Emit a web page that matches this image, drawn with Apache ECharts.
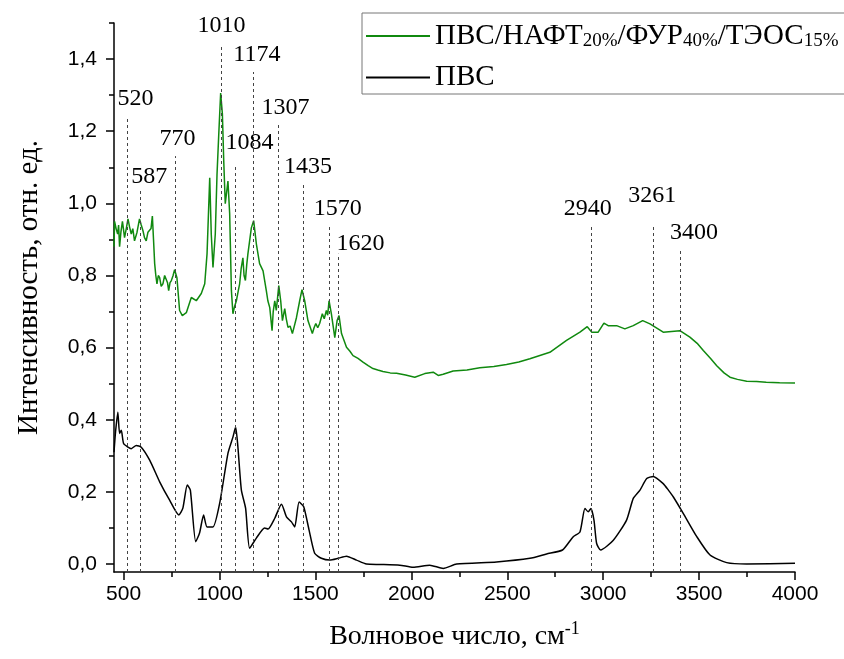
<!DOCTYPE html>
<html>
<head>
<meta charset="utf-8">
<script src="https://cdn.jsdelivr.net/npm/echarts@6/dist/echarts.min.js"></script>
<style>
  html, body { margin: 0; padding: 0; background: #fff; }
  #chart { width: 844px; height: 659px; }
</style>
</head>
<body>
<div id="chart"></div>
<script>
// ПВС/НАФТ/ФУР/ТЭОС film spectrum (green)
var compX = [450, 453, 461, 469, 474, 479, 486, 494, 499, 505, 514, 523, 531, 540, 548, 557, 570, 583, 592, 601, 609, 618, 627, 636, 643, 650,
  656, 662, 668, 674, 681, 688, 696, 705, 714, 723, 729, 735, 742, 749, 758, 766, 778, 792, 806, 827, 853, 879, 905, 923, 935, 949, 957, 966, 978, 987, 996, 1006, 1015, 1022,
  1030, 1044, 1053, 1062, 1070, 1079, 1088, 1097, 1105, 1113, 1122, 1128, 1135, 1142, 1148, 1166, 1178, 1192, 1209, 1227, 1244, 1252, 1262, 1274, 1280, 1288, 1296,
  1309, 1319, 1328, 1340, 1348, 1357, 1368, 1380, 1401, 1418, 1430, 1444, 1461, 1484, 1493, 1502, 1512, 1522, 1536, 1546, 1557, 1564, 1571, 1583, 1601, 1613,
  1623, 1636, 1644, 1662, 1680, 1696, 1722, 1748, 1775, 1800, 1825, 1852, 1890, 1923, 1970, 2018, 2070, 2114, 2140, 2166, 2218, 2290, 2357, 2430, 2496, 2560, 2618, 2722, 2809, 2879, 2917,
  2940, 2974, 3004, 3026, 3070, 3113, 3157, 3206, 3244, 3313, 3400, 3452, 3490, 3522, 3560, 3592, 3630, 3661, 3700, 3748, 3800, 3850, 3920, 4000];
var compY = [0.88, 0.95, 0.93, 0.915, 0.94, 0.88, 0.92, 0.95, 0.93, 0.905, 0.93, 0.957, 0.935, 0.915, 0.93, 0.896, 0.92, 0.957, 0.94, 0.924, 0.905, 0.896, 0.92, 0.915, 0.93, 0.965,
  0.90, 0.833, 0.80, 0.777, 0.80, 0.794, 0.77, 0.777, 0.80, 0.805, 0.78, 0.758, 0.78, 0.786, 0.80, 0.816, 0.794, 0.703, 0.689, 0.697, 0.739, 0.730, 0.750, 0.777, 0.860, 1.071, 0.915, 0.822, 0.915, 1.08, 1.19, 1.306, 1.248, 1.118,
  0.999, 1.062, 0.971, 0.758, 0.694, 0.715, 0.730, 0.755, 0.777, 0.82, 0.849, 0.80, 0.786, 0.83, 0.860, 0.932, 0.952, 0.888, 0.833, 0.813, 0.758, 0.73, 0.711, 0.647, 0.70, 0.730, 0.703,
  0.772, 0.730, 0.675, 0.708, 0.68, 0.656, 0.66, 0.639, 0.683, 0.730, 0.761, 0.730, 0.675, 0.639, 0.655, 0.667, 0.655, 0.667, 0.694, 0.68, 0.703, 0.69, 0.730, 0.694, 0.628, 0.675,
  0.689, 0.639, 0.639, 0.601, 0.59, 0.578, 0.57, 0.560, 0.55, 0.542, 0.538, 0.534, 0.53, 0.529, 0.524, 0.518, 0.528, 0.532, 0.523, 0.526, 0.535, 0.538, 0.544, 0.548, 0.553, 0.56, 0.569, 0.587, 0.620, 0.643, 0.658,
  0.643, 0.643, 0.668, 0.661, 0.661, 0.652, 0.661, 0.675, 0.666, 0.643, 0.647, 0.629, 0.612, 0.592, 0.57, 0.550, 0.53, 0.518, 0.512, 0.507, 0.506, 0.504, 0.503, 0.502];

// ПВС spectrum (black)
var pvaX = [450, 458, 470, 479, 488, 500, 523, 540, 566, 592, 636, 688, 740, 788, 809, 832, 848, 876, 896, 917,
  935, 966, 1001, 1044, 1070, 1084, 1096, 1114, 1136, 1157, 1192, 1235, 1253, 1288, 1323, 1349, 1375, 1392, 1415, 1439,
  1467, 1496, 1531, 1575, 1618, 1662, 1714, 1766, 1836, 1940, 2009, 2096, 2166, 2236, 2444, 2618, 2705, 2788, 2844, 2879,
  2905, 2922, 2936, 2952, 2966, 2987, 3053, 3122, 3157, 3192, 3227, 3261, 3313, 3340, 3366, 3418, 3488, 3557, 3644, 3748, 4000];
var pvaY = [0.31, 0.366, 0.421, 0.362, 0.371, 0.334, 0.324, 0.320, 0.329, 0.324, 0.288, 0.228, 0.177, 0.136, 0.155, 0.219, 0.205, 0.062, 0.086, 0.136,
  0.103, 0.103, 0.169, 0.307, 0.352, 0.380, 0.324, 0.205, 0.155, 0.044, 0.072, 0.100, 0.097, 0.127, 0.166, 0.131, 0.117, 0.103, 0.172, 0.159,
  0.094, 0.030, 0.016, 0.011, 0.016, 0.022, 0.011, 0.0, -0.001, -0.003, -0.009, -0.003, -0.012, 0.0, 0.006, 0.016, 0.028, 0.039, 0.076, 0.089,
  0.154, 0.145, 0.154, 0.122, 0.057, 0.039, 0.066, 0.122, 0.182, 0.205, 0.237, 0.243, 0.223, 0.205, 0.186, 0.140, 0.076, 0.025, 0.004, 0.0, 0.002];

// marked bands: position, top of the dashed line
var peakPos = [520, 587, 770, 1010, 1084, 1174, 1307, 1435, 1570, 1620, 2940, 3261, 3400];
var peakTop = [1.234, 1.035, 1.131, 1.436, 1.104, 1.364, 1.220, 1.054, 0.935, 0.860, 0.936, 0.936, 0.871];
// label shift from the line end, px
var peakLabelShift = [[8, -3], [9, 3], [2, 0], [0, -3], [14, -6], [4, 0], [7, 1], [5, 0], [9, -1], [22, 7], [-4, -1], [-1, -14], [14, 0]];

var xMajor = [500, 1000, 1500, 2000, 2500, 3000, 3500, 4000];
var xMinor = [750, 1250, 1750, 2250, 2750, 3250, 3750];
var yMajor = [0, 0.2, 0.4, 0.6, 0.8, 1.0, 1.2, 1.4];
var yMinor = [0.1, 0.3, 0.5, 0.7, 0.9, 1.1, 1.3, 1.5];

var X_MIN = 450, X_MAX = 4000, Y_MIN = -0.022, Y_MAX = 1.5;
var serif = 'Liberation Serif';
var sans = '"Liberation Sans", Arial';

function pairs(xs, ys) {
  return xs.map(function (x, i) { return [x, ys[i]]; });
}

var peakLines = peakPos.map(function (p, i) {
  return [
    { coord: [p, Y_MIN] },
    { coord: [p, peakTop[i]], label: { offset: peakLabelShift[i] } }
  ];
});

var tickStyle = { color: '#000', width: 1.5 };
var hiddenLine = { show: true, onZero: false, lineStyle: { color: 'rgba(0,0,0,0)' } };
var plotBox = { left: 114, right: 49, top: 23, bottom: 87 };

var chart = echarts.init(document.getElementById('chart'));
var option = {
  animation: false,
  // second grid only carries the short minor ticks
  grid: [plotBox, Object.assign({}, plotBox)],
  legend: {
    left: 362,
    top: 13,
    orient: 'vertical',
    padding: [1, 40, 2, 4],
    itemGap: 12,
    itemWidth: 64,
    itemHeight: 2,
    icon: 'rect',
    borderColor: '#777',
    borderWidth: 1,
    borderRadius: 0,
    data: ['ПВС/НАФТ/ФУР/ТЭОС', 'ПВС'],
    formatter: function (name) {
      if (name === 'ПВС') return '{t|ПВС}';
      return '{t|ПВС/НАФТ}{s|20%}{t|/ФУР}{s|40%}{t|/ТЭОС}{s|15%}';
    },
    textStyle: {
      fontFamily: serif,
      color: '#000',
      rich: {
        t: { fontFamily: serif, fontSize: 29, color: '#000', lineHeight: 30 },
        s: { fontFamily: serif, fontSize: 19, color: '#000', lineHeight: 30, verticalAlign: 'bottom', padding: [18, 0, 0, 0] }
      }
    }
  },
  xAxis: [{
    type: 'value',
    gridIndex: 0,
    min: X_MIN,
    max: X_MAX,
    name: '{t|Волновое число, см}{sup|-1}',
    nameLocation: 'middle',
    nameGap: 48,
    nameTextStyle: {
      rich: {
        t: { fontFamily: serif, fontSize: 28, color: '#000' },
        sup: { fontFamily: serif, fontSize: 18, color: '#000', verticalAlign: 'top', padding: [0, 0, 16, 0] }
      }
    },
    axisLine: { onZero: false, lineStyle: tickStyle },
    axisTick: { customValues: xMajor, length: 8, lineStyle: tickStyle },
    axisLabel: {
      customValues: xMajor, margin: 12, fontFamily: sans, fontSize: 21, color: '#000',
      formatter: function (v) { return String(v); }
    },
    splitLine: { show: false }
  }, {
    type: 'value',
    gridIndex: 1,
    min: X_MIN,
    max: X_MAX,
    position: 'bottom',
    axisLine: hiddenLine,
    axisTick: { show: true, customValues: xMinor, length: 5, lineStyle: tickStyle },
    axisLabel: { show: false, customValues: xMinor },
    splitLine: { show: false }
  }],
  yAxis: [{
    type: 'value',
    gridIndex: 0,
    min: Y_MIN,
    max: Y_MAX,
    name: 'Интенсивность, отн. ед.',
    nameLocation: 'middle',
    nameGap: 70,
    nameTextStyle: { fontFamily: serif, fontSize: 29, color: '#000', padding: [0, 0, 0, 20] },
    axisLine: { onZero: false, lineStyle: tickStyle },
    axisTick: { customValues: yMajor, length: 8, lineStyle: tickStyle },
    axisLabel: {
      customValues: yMajor,
      margin: 17,
      fontFamily: sans,
      fontSize: 21,
      color: '#000',
      formatter: function (v) { return v.toFixed(1).replace('.', ','); }
    },
    splitLine: { show: false }
  }, {
    type: 'value',
    gridIndex: 1,
    min: Y_MIN,
    max: Y_MAX,
    position: 'left',
    axisLine: hiddenLine,
    axisTick: { show: true, customValues: yMinor, length: 5, lineStyle: tickStyle },
    axisLabel: { show: false, customValues: yMinor },
    splitLine: { show: false }
  }],
  series: [{
    name: 'ПВС/НАФТ/ФУР/ТЭОС',
    type: 'line',
    symbol: 'none',
    data: pairs(compX, compY),
    lineStyle: { color: '#10890f', width: 1.5 },
    itemStyle: { color: '#10890f' },
    z: 3
  }, {
    name: 'ПВС',
    type: 'line',
    symbol: 'none',
    smooth: 0.2,
    data: pairs(pvaX, pvaY),
    lineStyle: { color: '#000', width: 1.5 },
    itemStyle: { color: '#000' },
    z: 3,
    markLine: {
      silent: true,
      symbol: ['none', 'none'],
      lineStyle: { type: [3, 3], color: '#444', width: 1 },
      label: {
        show: true,
        position: 'end',
        distance: 5,
        fontFamily: serif,
        fontSize: 24,
        color: '#000',
        formatter: function (p) { return String(p.data.coord ? p.data.coord[0] : p.value); }
      },
      data: peakLines
    }
  }]
};
chart.setOption(option);
</script>
</body>
</html>
